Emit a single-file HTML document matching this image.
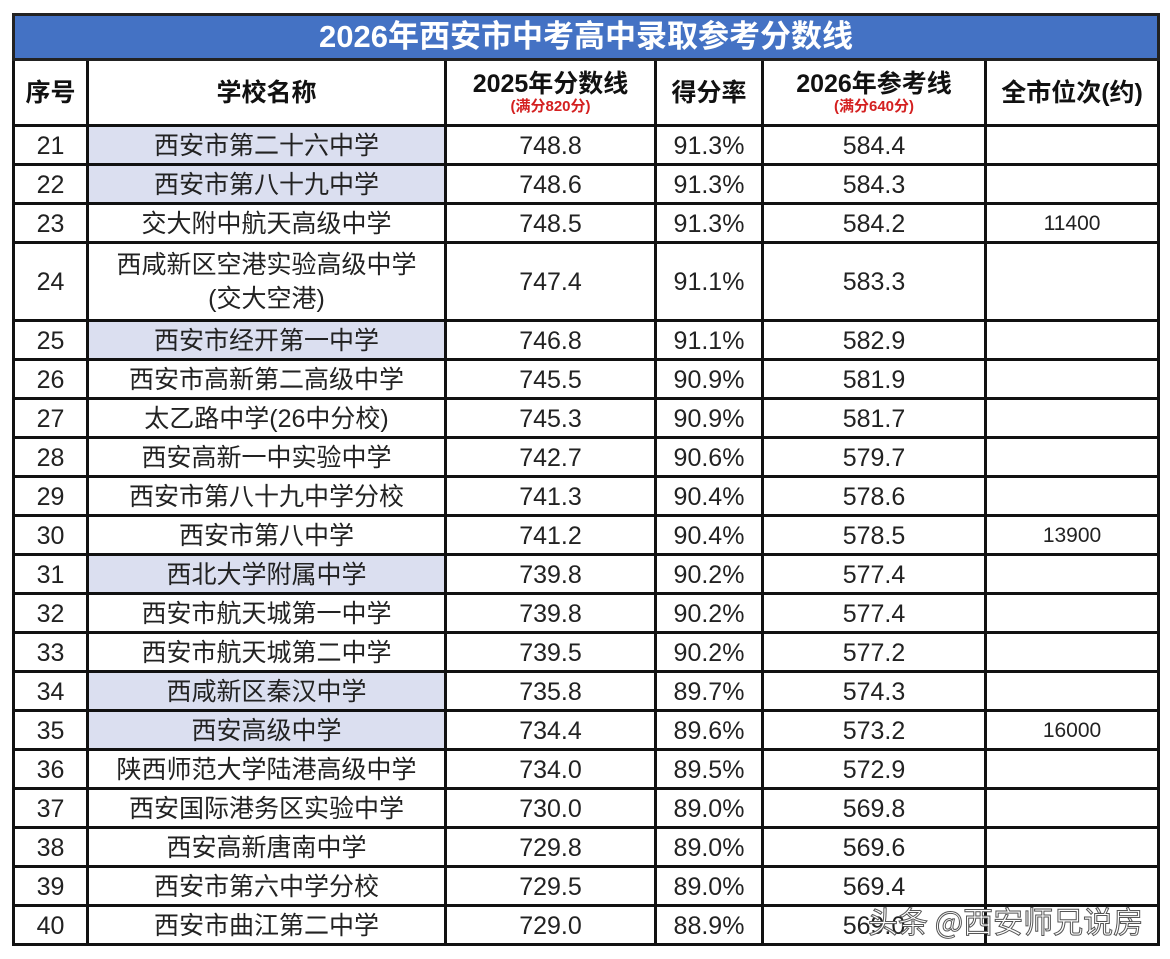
<!DOCTYPE html>
<html><head><meta charset="utf-8">
<style>
body{margin:0;background:#fff;width:1170px;height:959px;overflow:hidden;position:relative;font-family:"Liberation Sans","Noto Sans CJK SC",sans-serif;}
table{position:absolute;left:12px;top:13px;width:1145px;border-collapse:collapse;table-layout:fixed;}
td,th{border:3px solid #111;text-align:center;padding:0;color:#222;font-size:25px;font-weight:normal;overflow:hidden;white-space:nowrap;}
.title td{background:#4472c4;color:#fff;font-weight:bold;font-size:31px;height:42px;line-height:42px;border-color:#222;}
.hdr th{height:63px;font-weight:bold;font-size:25px;color:#111;line-height:28px;}
.hdr small{display:block;color:#d42020;font-size:15px;line-height:18px;}
tr.r td{height:36px;line-height:38px;}
tr.r td div{height:36px;overflow:hidden;}
tr.d td{height:75px;line-height:30px;}
td.hl{background:#dbdff0;}
td.rk{font-size:21px;vertical-align:top;line-height:30px;}
.wm{position:absolute;left:868px;top:898px;font-size:30px;color:#fff;-webkit-text-stroke:1px #555;font-family:"Noto Sans CJK SC",sans-serif;}
</style></head><body>
<table>
<colgroup><col style="width:74px"><col style="width:358px"><col style="width:210px"><col style="width:107px"><col style="width:223px"><col style="width:173px"></colgroup>
<tr class="title"><td colspan="6">2026年西安市中考高中录取参考分数线</td></tr>
<tr class="hdr"><th>序号</th><th>学校名称</th><th>2025年分数线<small>(满分820分)</small></th><th>得分率</th><th>2026年参考线<small>(满分640分)</small></th><th>全市位次(约)</th></tr>
<tr class="r"><td><div>21</div></td><td class="hl"><div>西安市第二十六中学</div></td><td><div>748.8</div></td><td><div>91.3%</div></td><td><div>584.4</div></td><td class="rk"><div></div></td></tr>
<tr class="r"><td><div>22</div></td><td class="hl"><div>西安市第八十九中学</div></td><td><div>748.6</div></td><td><div>91.3%</div></td><td><div>584.3</div></td><td class="rk"><div></div></td></tr>
<tr class="r"><td><div>23</div></td><td><div>交大附中航天高级中学</div></td><td><div>748.5</div></td><td><div>91.3%</div></td><td><div>584.2</div></td><td class="rk"><div>11400</div></td></tr>
<tr class="d"><td>24</td><td style="line-height:34px">西咸新区空港实验高级中学<br>(交大空港)</td><td>747.4</td><td>91.1%</td><td>583.3</td><td class="rk"></td></tr>
<tr class="r"><td><div>25</div></td><td class="hl"><div>西安市经开第一中学</div></td><td><div>746.8</div></td><td><div>91.1%</div></td><td><div>582.9</div></td><td class="rk"><div></div></td></tr>
<tr class="r"><td><div>26</div></td><td><div>西安市高新第二高级中学</div></td><td><div>745.5</div></td><td><div>90.9%</div></td><td><div>581.9</div></td><td class="rk"><div></div></td></tr>
<tr class="r"><td><div>27</div></td><td><div>太乙路中学(26中分校)</div></td><td><div>745.3</div></td><td><div>90.9%</div></td><td><div>581.7</div></td><td class="rk"><div></div></td></tr>
<tr class="r"><td><div>28</div></td><td><div>西安高新一中实验中学</div></td><td><div>742.7</div></td><td><div>90.6%</div></td><td><div>579.7</div></td><td class="rk"><div></div></td></tr>
<tr class="r"><td><div>29</div></td><td><div>西安市第八十九中学分校</div></td><td><div>741.3</div></td><td><div>90.4%</div></td><td><div>578.6</div></td><td class="rk"><div></div></td></tr>
<tr class="r"><td><div>30</div></td><td><div>西安市第八中学</div></td><td><div>741.2</div></td><td><div>90.4%</div></td><td><div>578.5</div></td><td class="rk"><div>13900</div></td></tr>
<tr class="r"><td><div>31</div></td><td class="hl"><div>西北大学附属中学</div></td><td><div>739.8</div></td><td><div>90.2%</div></td><td><div>577.4</div></td><td class="rk"><div></div></td></tr>
<tr class="r"><td><div>32</div></td><td><div>西安市航天城第一中学</div></td><td><div>739.8</div></td><td><div>90.2%</div></td><td><div>577.4</div></td><td class="rk"><div></div></td></tr>
<tr class="r"><td><div>33</div></td><td><div>西安市航天城第二中学</div></td><td><div>739.5</div></td><td><div>90.2%</div></td><td><div>577.2</div></td><td class="rk"><div></div></td></tr>
<tr class="r"><td><div>34</div></td><td class="hl"><div>西咸新区秦汉中学</div></td><td><div>735.8</div></td><td><div>89.7%</div></td><td><div>574.3</div></td><td class="rk"><div></div></td></tr>
<tr class="r"><td><div>35</div></td><td class="hl"><div>西安高级中学</div></td><td><div>734.4</div></td><td><div>89.6%</div></td><td><div>573.2</div></td><td class="rk"><div>16000</div></td></tr>
<tr class="r"><td><div>36</div></td><td><div>陕西师范大学陆港高级中学</div></td><td><div>734.0</div></td><td><div>89.5%</div></td><td><div>572.9</div></td><td class="rk"><div></div></td></tr>
<tr class="r"><td><div>37</div></td><td><div>西安国际港务区实验中学</div></td><td><div>730.0</div></td><td><div>89.0%</div></td><td><div>569.8</div></td><td class="rk"><div></div></td></tr>
<tr class="r"><td><div>38</div></td><td><div>西安高新唐南中学</div></td><td><div>729.8</div></td><td><div>89.0%</div></td><td><div>569.6</div></td><td class="rk"><div></div></td></tr>
<tr class="r"><td><div>39</div></td><td><div>西安市第六中学分校</div></td><td><div>729.5</div></td><td><div>89.0%</div></td><td><div>569.4</div></td><td class="rk"><div></div></td></tr>
<tr class="r"><td><div>40</div></td><td><div>西安市曲江第二中学</div></td><td><div>729.0</div></td><td><div>88.9%</div></td><td><div>569.0</div></td><td class="rk"><div></div></td></tr>
</table>
<div class="wm">头条 @西安师兄说房</div>
</body></html>
